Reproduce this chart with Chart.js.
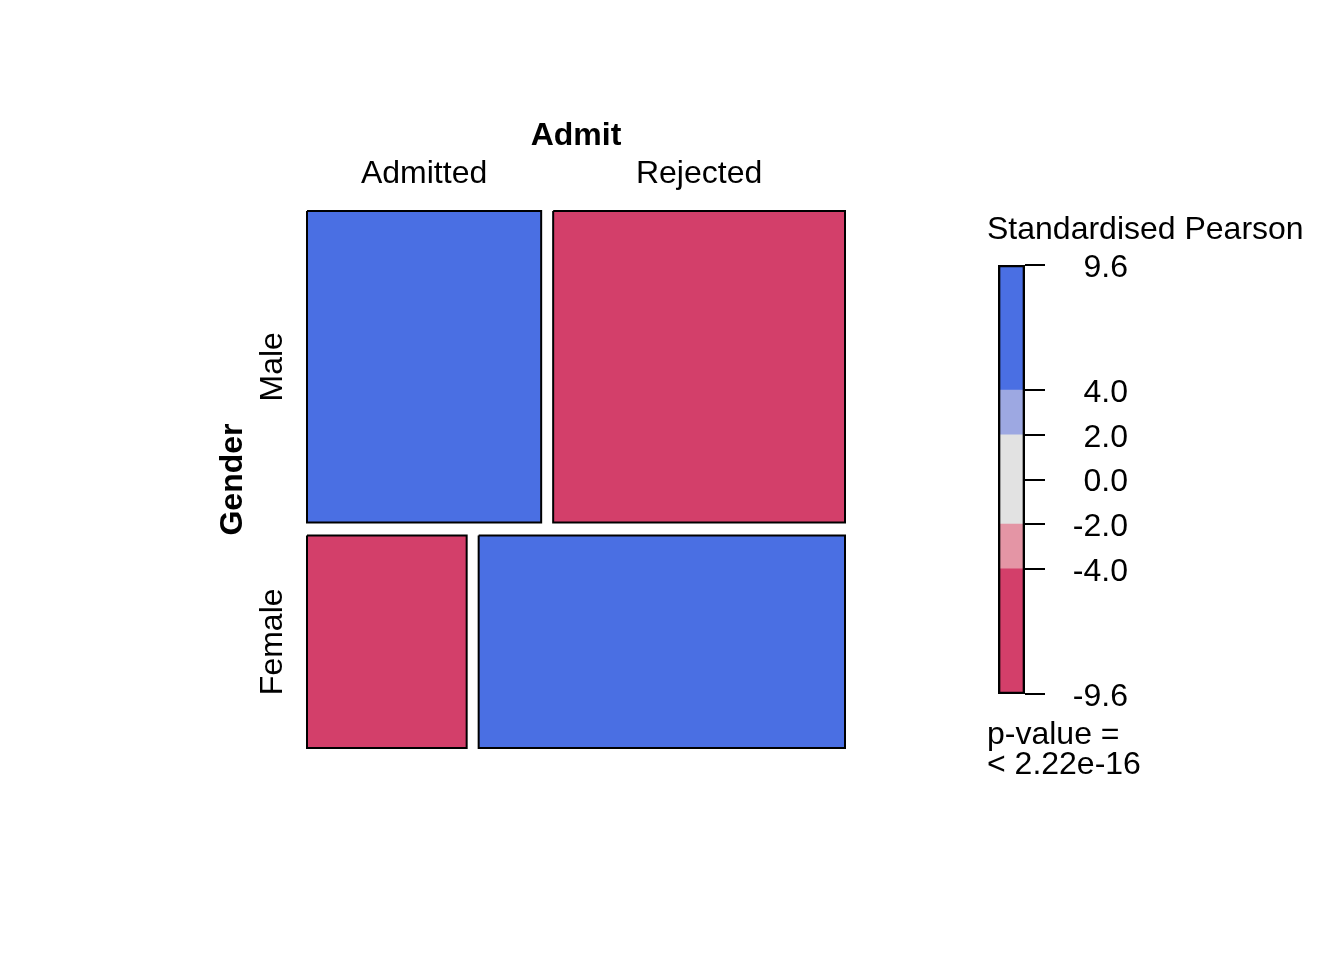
<!DOCTYPE html>
<html>
<head>
<meta charset="utf-8">
<script src="https://cdn.jsdelivr.net/npm/chart.js@4"></script>
<style>
  body { margin: 0; background: #fff; }
  #wrap { position: relative; width: 1344px; height: 960px; }
  canvas { position: absolute; }
</style>
</head>
<body>
<div id="wrap">
  <canvas id="mosaic" width="1344" height="960" style="left:0;top:0"></canvas>
  <canvas id="shadeKey" width="360" height="600" style="left:970px;top:200px"></canvas>
</div>
<script>
// UCB admissions, Gender x Admit
const genders = ["Male", "Female"];
const admits = ["Admitted", "Rejected"];
const maleCounts = [1198, 1493];
const femaleCounts = [557, 1278];
const maleResiduals = [9.6, -9.6];
const femaleResiduals = [-9.6, 9.6];

// shading legend
const keyBreaks = [-9.6, -4, -2, 2, 4, 9.6];
const keyColors = ["#D33F6A", "#E495A5", "#E2E2E2", "#9DA8E2", "#4A6FE3"];
const keyTicks = [-9.6, -4, -2, 0, 2, 4, 9.6];
const keyTitle = "Standardised Pearson";
const pValueText = ["p-value =", "< 2.22e-16"];

const FONT = "'Liberation Sans', Arial, sans-serif";
const xGap = 0.0223;
const yGap = 0.0242;

function shade(r) {
  for (let k = 0; k < keyColors.length; k++) {
    if (r <= keyBreaks[k + 1]) return keyColors[k];
  }
  return keyColors[keyColors.length - 1];
}

const rows = [maleCounts, femaleCounts];
const resid = [maleResiduals, femaleResiduals];
const total = rows.flat().reduce((a, b) => a + b, 0);

// tile corners in proportion units
const cells = [];
let yStart = 0;
rows.forEach((counts, i) => {
  const rowSum = counts.reduce((a, b) => a + b, 0);
  const h = (1 - yGap * (rows.length - 1)) * rowSum / total;
  let xStart = 0;
  counts.forEach((n, j) => {
    const w = (1 - xGap * (counts.length - 1)) * n / rowSum;
    cells.push({ row: i, col: j, x0: xStart, x1: xStart + w, y0: yStart, y1: yStart + h, color: shade(resid[i][j]) });
    xStart += w + xGap;
  });
  yStart += h + yGap;
});

const mosaicLabels = {
  id: "mosaicLabels",
  afterDraw(chart) {
    const { ctx, chartArea: a, scales: { x, y } } = chart;
    ctx.save();
    ctx.fillStyle = "#000";
    ctx.textAlign = "center";
    ctx.textBaseline = "alphabetic";
    ctx.font = "bold 32px " + FONT;
    ctx.fillText("Admit", (a.left + a.right) / 2, a.top - 66);
    ctx.font = "32px " + FONT;
    cells.filter(c => c.row === 0).forEach(c => {
      ctx.fillText(admits[c.col], x.getPixelForValue((c.x0 + c.x1) / 2), a.top - 28);
    });
    cells.filter(c => c.col === 0).forEach(c => {
      ctx.save();
      ctx.translate(a.left - 25, y.getPixelForValue((c.y0 + c.y1) / 2));
      ctx.rotate(-Math.PI / 2);
      ctx.fillText(genders[c.row], 0, 0);
      ctx.restore();
    });
    ctx.font = "bold 32px " + FONT;
    ctx.translate(a.left - 65, (a.top + a.bottom) / 2);
    ctx.rotate(-Math.PI / 2);
    ctx.fillText("Gender", 0, 0);
    ctx.restore();
  }
};

new Chart(document.getElementById("mosaic"), {
  type: "line",
  data: {
    datasets: cells.map(c => ({
      data: [
        { x: c.x0, y: c.y0 }, { x: c.x1, y: c.y0 }, { x: c.x1, y: c.y1 },
        { x: c.x0, y: c.y1 }, { x: c.x0, y: c.y0 }
      ],
      fill: "shape",
      backgroundColor: c.color,
      borderColor: "#000",
      borderWidth: 2,
      borderJoinStyle: "miter",
      pointRadius: 0,
      tension: 0,
      clip: false
    }))
  },
  options: {
    responsive: false,
    animation: false,
    events: [],
    layout: { padding: { left: 307, right: 499, top: 211, bottom: 212 } },
    scales: {
      x: { type: "linear", min: 0, max: 1, display: false },
      y: { type: "linear", min: 0, max: 1, reverse: true, display: false }
    },
    plugins: { legend: { display: false }, tooltip: { enabled: false } }
  },
  plugins: [mosaicLabels]
});

const keyText = {
  id: "keyText",
  afterDraw(chart) {
    const { ctx, chartArea: a } = chart;
    ctx.save();
    ctx.fillStyle = "#000";
    ctx.font = "32px " + FONT;
    ctx.textAlign = "left";
    ctx.textBaseline = "alphabetic";
    ctx.fillText(keyTitle, a.left - 11, a.top - 26);
    pValueText.forEach((t, k) => ctx.fillText(t, a.left - 11, a.bottom + 50 + k * 30));
    ctx.restore();
  }
};

const bandSets = keyColors.map((c, k) => ({
  data: [[keyBreaks[k], keyBreaks[k + 1]]],
  backgroundColor: c,
  borderWidth: 0,
  grouped: false,
  barPercentage: 1,
  categoryPercentage: 1
}));

new Chart(document.getElementById("shadeKey"), {
  type: "bar",
  data: {
    labels: [""],
    datasets: [{
      data: [[keyBreaks[0], keyBreaks[keyBreaks.length - 1]]],
      backgroundColor: "rgba(0,0,0,0)",
      borderColor: "#000",
      borderWidth: 2,
      borderSkipped: false,
      grouped: false,
      barPercentage: 1,
      categoryPercentage: 1
    }].concat(bandSets)
  },
  options: {
    responsive: false,
    animation: false,
    events: [],
    layout: { padding: { left: 28, right: 202, top: 65, bottom: 106 } },
    scales: {
      x: { display: false },
      y: {
        position: "right",
        min: keyBreaks[0],
        max: keyBreaks[keyBreaks.length - 1],
        afterBuildTicks: s => { s.ticks = keyTicks.map(v => ({ value: v })); },
        afterFit: s => { s.width = 103; },
        grid: { drawOnChartArea: false, drawTicks: true, tickLength: 20, color: "#000", lineWidth: 2 },
        border: { display: false },
        ticks: {
          padding: 12,
          labelOffset: 3,
          crossAlign: "far",
          color: "#000",
          font: { family: FONT, size: 32 },
          callback: v => Number(v).toFixed(1)
        }
      }
    },
    plugins: { legend: { display: false }, tooltip: { enabled: false } }
  },
  plugins: [keyText]
});
</script>
</body>
</html>
